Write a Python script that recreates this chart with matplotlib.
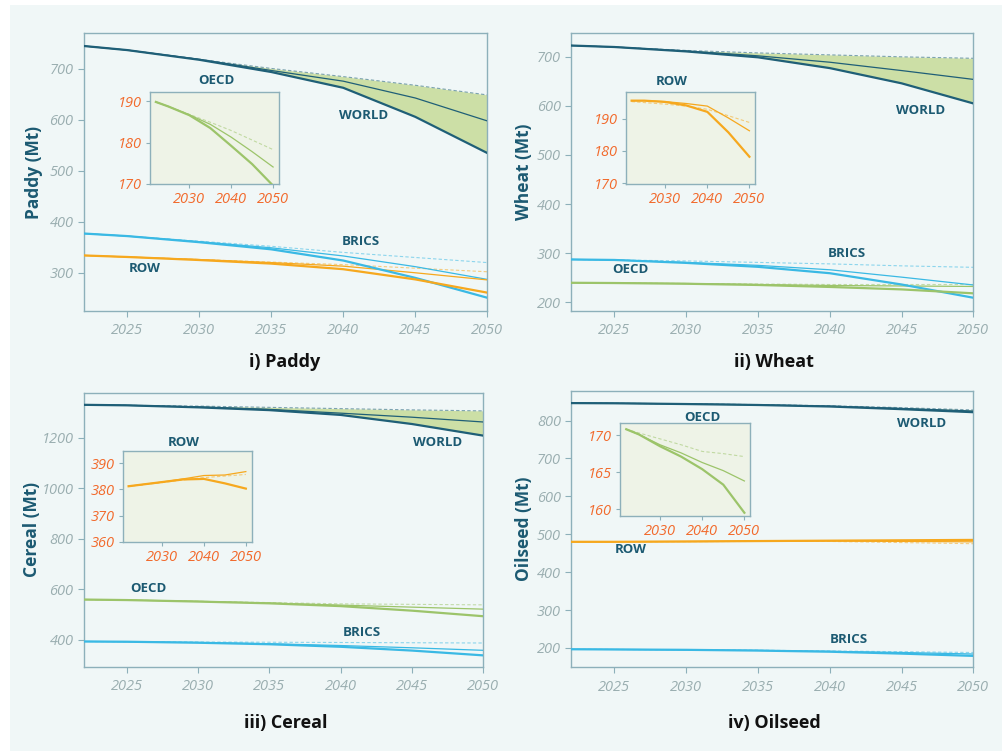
import matplotlib
matplotlib.use("Agg")
import matplotlib.pyplot as plt
from matplotlib.patches import Rectangle

plt.rcParams['font.family'] = ['Open Sans', 'DejaVu Sans']
plt.rcParams['font.style'] = 'italic'   # tick labels are italic in the reference

years = [2022, 2025, 2030, 2035, 2040, 2045, 2050]
scenarios = ['baseline', 'moderate', 'severe']

# ---- Paddy (Mt): rows = baseline, moderate, severe
paddy_world = [[745, 737, 719, 701, 685, 668, 649],
               [745, 737, 719, 697, 676, 643, 598],
               [745, 737, 718, 694, 663, 606, 535]]
paddy_brics = [[377, 372, 362, 352, 340, 330, 320],
               [377, 372, 361, 349, 333, 312, 287],
               [377, 372, 360, 346, 324, 290, 251]]
paddy_row = [[334, 331, 326, 321, 316, 309, 302],
             [334, 331, 326, 320, 313, 300, 286],
             [334, 331, 325, 318, 307, 287, 261]]
paddy_oecd = [[189.8, 188.7, 186.8, 184.9, 182.9, 180.6, 178.3],
              [189.8, 188.7, 186.7, 184.4, 181.3, 177.8, 174.1],
              [189.8, 188.7, 186.6, 183.5, 179.2, 174.8, 169.6]]

# ---- Wheat (Mt)
wheat_world = [[723, 720, 713, 708, 704, 700, 697],
               [723, 720, 712, 702, 689, 672, 654],
               [723, 720, 711, 699, 677, 646, 605]]
wheat_brics = [[287, 286, 284, 281, 278, 274, 271],
               [287, 286, 281, 275, 266, 251, 235],
               [287, 286, 280, 272, 259, 236, 209]]
wheat_oecd = [[239.5, 239, 238, 237, 236, 236, 236],
              [239.5, 239, 238, 236, 234, 233, 232],
              [239.5, 239, 237.5, 235, 231, 226, 218]]
wheat_row = [[195.4, 195.1, 194.6, 194.0, 193.0, 191.0, 188.9],
             [195.7, 195.7, 195.4, 194.8, 194.0, 190.3, 186.3],
             [195.7, 195.7, 195.3, 194.2, 192.2, 185.8, 178.2]]

# ---- Cereal (Mt)
cereal_world = [[1330, 1328, 1325, 1320, 1315, 1310, 1306],
                [1330, 1328, 1322, 1312, 1297, 1281, 1262],
                [1330, 1328, 1320, 1309, 1290, 1254, 1208]]
cereal_oecd = [[559, 557, 552, 547, 542, 540, 538],
               [559, 557, 552, 545, 537, 529, 521],
               [559, 557, 551, 544, 533, 515, 493]]
cereal_brics = [[393, 392, 391, 390, 389, 388, 387],
                [393, 392, 389, 384, 377, 368, 358],
                [393, 392, 388, 382, 372, 357, 338]]
cereal_row = [[381.2, 381.7, 382.6, 383.6, 384.5, 385.1, 385.7],
              [381.2, 381.8, 382.8, 384.0, 385.3, 385.5, 386.8],
              [381.2, 381.8, 382.8, 383.8, 384.0, 382.3, 380.3]]

# ---- Oilseed (Mt)
oilseed_world = [[846, 845.5, 844, 842, 839, 834, 828],
                 [846, 845.5, 844, 841.5, 838, 832, 825],
                 [846, 845.5, 843.5, 841, 837, 830, 822]]
oilseed_row = [[480, 480, 480.5, 481, 481, 478, 475],
               [480, 480, 480.5, 481.5, 482, 481, 480],
               [480, 480, 481, 482, 483, 484, 485]]
oilseed_brics = [[196.5, 196, 195, 194, 192, 190, 188],
                 [196.5, 196, 195, 193.5, 191, 188, 184],
                 [196.5, 196, 195, 193, 190, 185, 179]]
oilseed_oecd = [[170.8, 170.3, 169.5, 168.7, 167.8, 167.5, 167.1],
                [170.8, 170.1, 168.7, 167.6, 166.3, 165.2, 163.8],
                [170.8, 170.1, 168.5, 167.1, 165.4, 163.3, 159.5]]

main_xticks = [2025, 2030, 2035, 2040, 2045, 2050]
inset_xticks = [2030, 2040, 2050]

# ---- styling
BG = '#f0f7f7'
INSET_BG = '#eef3e7'
SPINE = '#8db0ba'
TICKGRAY = '#9aaeb0'
TEAL = '#1c5a72'
ORANGE_TXT = '#f26a2c'
C_WORLD = '#1f5f77'
C_BRICS = '#3ab9e4'
C_ROW = '#f6a81e'
C_OECD = '#9cc46a'
FILL = '#cadea2'

fig = plt.figure(figsize=(10.02, 7.51), dpi=100)
fig.patch.set_facecolor('white')
fig.add_artist(Rectangle((10 / 1002, 0), 1, 1 - 5 / 751, transform=fig.transFigure,
                         facecolor=BG, edgecolor='none', zorder=-10))


def style_axes(ax, face, xticks, yticks, tick_color, fs):
    ax.set_facecolor(face)
    for s in ax.spines.values():
        s.set_color(SPINE)
        s.set_linewidth(1.0)
    ax.set_xticks(xticks)
    ax.set_yticks(yticks)
    ax.tick_params(colors=SPINE, labelcolor=tick_color, labelsize=fs,
                   length=4, width=0.8)


def draw_region(ax, data, color, fill=False):
    base, mod, sev = data
    if fill:
        ax.fill_between(years, base, sev, color=FILL, alpha=0.95, lw=0, zorder=1)
    ax.plot(years, base, color=color, lw=0.8, ls=(0, (3, 2)), alpha=0.55, zorder=2)
    ax.plot(years, mod, color=color, lw=0.9, zorder=3)
    ax.plot(years, sev, color=color, lw=1.6, zorder=4)


def label(ax, x, y, text):
    ax.text(x, y, text, color=TEAL, fontsize=9.5, fontweight='bold',
            fontstyle='normal', ha='center', va='center', zorder=6)


def make_main(rect, ylim, yticks, ylabel, ylabel_x, title, title_xy):
    ax = fig.add_axes(rect)
    ax.set_xlim(2022, 2050)
    ax.set_ylim(*ylim)
    style_axes(ax, BG, main_xticks, yticks, TICKGRAY, 10.5)
    ax.tick_params(axis='x', pad=5)
    cy = rect[1] + rect[3] / 2
    fig.text(ylabel_x, cy, ylabel, rotation=90, color=TEAL, fontsize=12.5,
             fontweight='bold', fontstyle='normal', ha='center', va='center')
    fig.text(title_xy[0], title_xy[1], title, color='#111111', fontsize=13,
             fontweight='bold', fontstyle='normal', ha='center', va='center')
    return ax


def make_inset(rect, ylim, yticks):
    ax = fig.add_axes(rect)
    ax.set_xlim(2020.6, 2051.4)
    ax.set_ylim(*ylim)
    style_axes(ax, INSET_BG, inset_xticks, yticks, ORANGE_TXT, 10.5)
    ax.tick_params(length=3, pad=3)
    ax.set_zorder(5)
    return ax


# ---- Panel i) Paddy
ax1 = make_main([0.0838, 0.5859, 0.4025, 0.3698], (225, 770), [300, 400, 500, 600, 700],
                'Paddy (Mt)', 34 / 1002, 'i) Paddy', (285 / 1002, 1 - 362 / 751))
draw_region(ax1, paddy_world, C_WORLD, fill=True)
draw_region(ax1, paddy_brics, C_BRICS)
draw_region(ax1, paddy_row, C_ROW)
label(ax1, 2031.2, 677, 'OECD')
label(ax1, 2041.4, 608, 'WORLD')
label(ax1, 2041.2, 361, 'BRICS')
label(ax1, 2026.2, 308, 'ROW')
in1 = make_inset([0.1497, 0.7550, 0.1287, 0.1225], (170, 192.2), [170, 180, 190])
draw_region(in1, paddy_oecd, C_OECD)

# ---- Panel ii) Wheat
ax2 = make_main([0.5702, 0.5859, 0.4012, 0.3698], (182, 748), [200, 300, 400, 500, 600, 700],
                'Wheat (Mt)', 524 / 1002, 'ii) Wheat', (774 / 1002, 1 - 362 / 751))
draw_region(ax2, wheat_world, C_WORLD, fill=True)
draw_region(ax2, wheat_brics, C_BRICS)
draw_region(ax2, wheat_oecd, C_OECD)
label(ax2, 2029.0, 650, 'ROW')
label(ax2, 2046.3, 591, 'WORLD')
label(ax2, 2041.2, 300, 'BRICS')
label(ax2, 2026.1, 267, 'OECD')
in2 = make_inset([0.6245, 0.7550, 0.1293, 0.1225], (169.7, 198.4), [170, 180, 190])
draw_region(in2, wheat_row, C_ROW)

# ---- Panel iii) Cereal
ax3 = make_main([0.0838, 0.1122, 0.3985, 0.3649], (293, 1378), [400, 600, 800, 1000, 1200],
                'Cereal (Mt)', 32 / 1002, 'iii) Cereal', (285.7 / 1002, 1 - 722.7 / 751))
draw_region(ax3, cereal_world, C_WORLD, fill=True)
draw_region(ax3, cereal_oecd, C_OECD)
draw_region(ax3, cereal_brics, C_BRICS)
label(ax3, 2029.0, 1182, 'ROW')
label(ax3, 2046.8, 1182, 'WORLD')
label(ax3, 2026.5, 603, 'OECD')
label(ax3, 2041.5, 429, 'BRICS')
in3 = make_inset([0.1225, 0.2787, 0.1287, 0.1212], (360, 394.8), [360, 370, 380, 390])
draw_region(in3, cereal_row, C_ROW)

# ---- Panel iv) Oilseed
ax4 = make_main([0.5702, 0.1115, 0.4012, 0.3679], (149, 878), [200, 300, 400, 500, 600, 700, 800],
                'Oilseed (Mt)', 524 / 1002, 'iv) Oilseed', (774 / 1002, 1 - 722.7 / 751))
draw_region(ax4, oilseed_world, C_WORLD, fill=True)
draw_region(ax4, oilseed_row, C_ROW)
draw_region(ax4, oilseed_brics, C_BRICS)
label(ax4, 2031.1, 809, 'OECD')
label(ax4, 2046.4, 793, 'WORLD')
label(ax4, 2026.1, 461, 'ROW')
label(ax4, 2041.3, 223, 'BRICS')
in4 = make_inset([0.6191, 0.3133, 0.1297, 0.1230], (159.1, 171.6), [160, 165, 170])
draw_region(in4, oilseed_oecd, C_OECD)

fig.savefig('out.png', dpi=100, facecolor=fig.get_facecolor())
